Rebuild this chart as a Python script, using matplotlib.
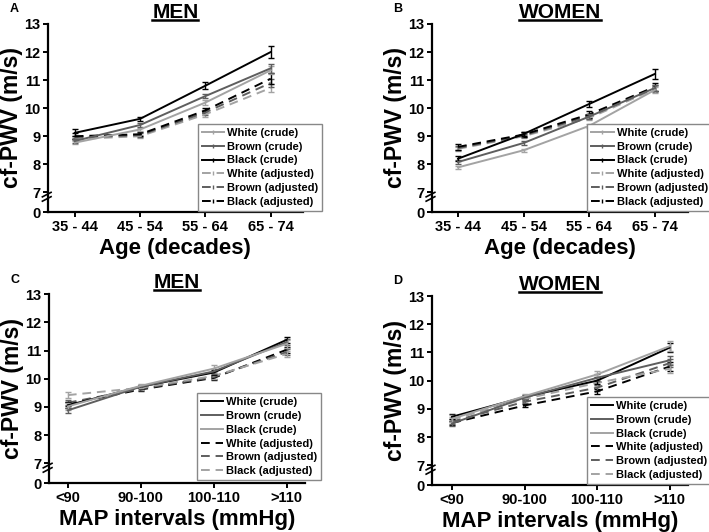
import matplotlib
matplotlib.use('Agg')
import matplotlib.pyplot as plt
from matplotlib.lines import Line2D
from matplotlib.container import ErrorbarContainer
from matplotlib.legend_handler import HandlerErrorbar

plt.rcParams['font.family'] = ['Liberation Sans', 'DejaVu Sans']
plt.rcParams['font.weight'] = 'bold'

# ---------------- data ----------------
age_groups = ['35 - 44', '45 - 54', '55 - 64', '65 - 74']
map_groups = ['<90', '90-100', '100-110', '>110']
y_ticks = [7, 8, 9, 10, 11, 12, 13]
series_names = ['White (crude)', 'Brown (crude)', 'Black (crude)',
                'White (adjusted)', 'Brown (adjusted)', 'Black (adjusted)']

# Panel A: men by age
men_age_white_crude = [8.77, 9.24, 10.20, 11.35]
men_age_brown_crude = [8.83, 9.40, 10.43, 11.42]
men_age_black_crude = [9.12, 9.62, 10.80, 12.00]
men_age_white_adj = [8.90, 9.00, 9.78, 10.72]
men_age_brown_adj = [8.95, 9.04, 9.85, 10.90]
men_age_black_adj = [9.00, 9.07, 9.92, 11.05]
men_age_err = [[0.06, 0.06, 0.08, 0.15], [0.06, 0.07, 0.08, 0.17],
               [0.12, 0.08, 0.12, 0.22], [0.05, 0.06, 0.08, 0.13],
               [0.05, 0.06, 0.08, 0.13], [0.10, 0.07, 0.10, 0.20]]

# Panel B: women by age
women_age_white_crude = [7.89, 8.50, 9.37, 10.65]
women_age_brown_crude = [8.08, 8.76, 9.70, 10.72]
women_age_black_crude = [8.20, 9.08, 10.15, 11.22]
women_age_white_adj = [8.55, 9.00, 9.65, 10.68]
women_age_brown_adj = [8.58, 9.03, 9.72, 10.72]
women_age_black_adj = [8.62, 9.06, 9.78, 10.76]
women_age_err = [[0.06, 0.05, 0.06, 0.10], [0.08, 0.07, 0.08, 0.12],
                 [0.10, 0.08, 0.10, 0.17], [0.06, 0.05, 0.06, 0.10],
                 [0.08, 0.06, 0.08, 0.12], [0.12, 0.08, 0.12, 0.15]]

# Panel C: men by MAP
men_map_white_crude = [9.06, 9.72, 10.22, 11.38]
men_map_brown_crude = [8.88, 9.72, 10.26, 11.30]
men_map_black_crude = [9.02, 9.75, 10.36, 11.24]
men_map_white_adj = [9.10, 9.62, 10.03, 11.03]
men_map_brown_adj = [9.15, 9.65, 10.06, 10.95]
men_map_black_adj = [9.42, 9.68, 10.10, 10.88]
men_map_err = [[0.10, 0.06, 0.08, 0.10], [0.08, 0.06, 0.08, 0.10],
               [0.12, 0.08, 0.12, 0.15], [0.08, 0.05, 0.07, 0.10],
               [0.08, 0.05, 0.07, 0.10], [0.12, 0.07, 0.10, 0.12]]

# Panel D: women by MAP
women_map_white_crude = [8.72, 9.42, 10.00, 11.17]
women_map_brown_crude = [8.48, 9.40, 10.10, 10.72]
women_map_black_crude = [8.65, 9.45, 10.22, 11.22]
women_map_white_adj = [8.50, 9.12, 9.62, 10.50]
women_map_brown_adj = [8.55, 9.25, 9.75, 10.62]
women_map_black_adj = [8.62, 9.35, 9.92, 10.42]
women_map_err = [[0.08, 0.06, 0.12, 0.15], [0.08, 0.06, 0.12, 0.15],
                 [0.12, 0.08, 0.12, 0.18], [0.08, 0.06, 0.10, 0.15],
                 [0.08, 0.06, 0.10, 0.15], [0.10, 0.07, 0.12, 0.16]]

# ---------------- style ----------------
LIGHT = '#a3a3a3'
MID = '#5e5e5e'
DARK = '#000000'
Y_BOTTOM = 6.3  # position standing for "0" on the broken axis

fig = plt.figure(figsize=(7.09, 5.32), dpi=100)

panels = [
    dict(letter='A', title='MEN', cats=age_groups, xlabel='Age (decades)',
         series=[men_age_white_crude, men_age_brown_crude, men_age_black_crude,
                 men_age_white_adj, men_age_brown_adj, men_age_black_adj],
         err=men_age_err, colors=[LIGHT, MID, DARK, LIGHT, MID, DARK],
         rect=[0.0677, 0.6015, 0.3593, 0.3535], xlim=(-0.41, 3.49),
         legend=(0.588, 0.468), bar_handles=True),
    dict(letter='B', title='WOMEN', cats=age_groups, xlabel='Age (decades)',
         series=[women_age_white_crude, women_age_brown_crude, women_age_black_crude,
                 women_age_white_adj, women_age_brown_adj, women_age_black_adj],
         err=women_age_err, colors=[LIGHT, MID, DARK, LIGHT, MID, DARK],
         rect=[0.609, 0.6015, 0.361, 0.3535], xlim=(-0.40, 3.50),
         legend=(0.608, 0.468), bar_handles=True),
    dict(letter='C', title='MEN', cats=map_groups, xlabel='MAP intervals (mmHg)',
         series=[men_map_white_crude, men_map_brown_crude, men_map_black_crude,
                 men_map_white_adj, men_map_brown_adj, men_map_black_adj],
         err=men_map_err, colors=[DARK, MID, LIGHT, DARK, MID, LIGHT],
         rect=[0.069, 0.092, 0.361, 0.355], xlim=(-0.26, 3.25),
         legend=(0.578, 0.475), bar_handles=False),
    dict(letter='D', title='WOMEN', cats=map_groups, xlabel='MAP intervals (mmHg)',
         series=[women_map_white_crude, women_map_brown_crude, women_map_black_crude,
                 women_map_white_adj, women_map_brown_adj, women_map_black_adj],
         err=women_map_err, colors=[DARK, MID, LIGHT, DARK, MID, LIGHT],
         rect=[0.609, 0.0883, 0.361, 0.3553], xlim=(-0.28, 3.25),
         legend=(0.605, 0.465), bar_handles=False),
]

title_texts = []
for p in panels:
    ax = fig.add_axes(p['rect'])
    x = list(range(len(p['cats'])))
    handles = []
    for i, (vals, col, name) in enumerate(zip(p['series'], p['colors'], series_names)):
        ls = '-' if i < 3 else (0, (4.5, 3))
        cont = ax.errorbar(x, vals, yerr=p['err'][i], color=col, ecolor=col,
                           linestyle=ls, linewidth=1.4, elinewidth=1.0,
                           capsize=2.2, capthick=1.0, label=name,
                           zorder=3 if i < 3 else 2)
        if p['bar_handles']:
            handles.append(Line2D([], [], color=col, linestyle=ls, linewidth=1.4,
                                  marker='|', markersize=3.5, markeredgewidth=1.0))
        else:
            handles.append(Line2D([], [], color=col, linestyle=ls, linewidth=1.4))
    ax.set_xlim(*p['xlim'])
    ax.set_ylim(Y_BOTTOM, 13)
    ax.set_xticks(x)
    ax.set_xticklabels(p['cats'], fontsize=10.5, fontweight='bold')
    ax.set_yticks([Y_BOTTOM] + y_ticks)
    ax.set_yticklabels(['0'] + [str(t) for t in y_ticks], fontsize=10.5, fontweight='bold')
    for s in ['top', 'right']:
        ax.spines[s].set_visible(False)
    for s in ['left', 'bottom']:
        ax.spines[s].set_linewidth(1.6)
    ax.tick_params(axis='both', direction='out', length=3.5, width=1.4, pad=2)
    ax.set_xlabel(p['xlabel'], fontsize=16, fontweight='bold', labelpad=3)
    ax.set_ylabel('cf-PWV (m/s)', fontsize=16.5, fontweight='bold', labelpad=1)
    # axis break marks
    y7 = (7 - Y_BOTTOM) / (13 - Y_BOTTOM)
    for dy in (-0.035, -0.012):
        ax.plot([-0.022, 0.012], [y7 + dy - 0.012, y7 + dy + 0.012],
                transform=ax.transAxes, color='black', lw=1.2, clip_on=False, zorder=5)
    leg = ax.legend(handles, series_names, loc='upper left',
                    bbox_to_anchor=p['legend'], fontsize=8, frameon=True,
                    fancybox=False, edgecolor='#888888', framealpha=1,
                    handlelength=2.0, handletextpad=0.3, labelspacing=0.34,
                    borderpad=0.35, borderaxespad=0)
    leg.get_frame().set_linewidth(1.0)
    for t in leg.get_texts():
        t.set_fontweight('bold')
    tt = ax.text(0.5, 1.01, p['title'], transform=ax.transAxes, ha='center',
                 va='bottom', fontsize=15, fontweight='bold')
    title_texts.append(tt)
    ax.text(-0.15, 1.045, p['letter'], transform=ax.transAxes, ha='left',
            va='bottom', fontsize=9, fontweight='bold')

# underline titles
fig.canvas.draw()
renderer = fig.canvas.get_renderer()
inv = fig.transFigure.inverted()
for tt in title_texts:
    bb = tt.get_window_extent(renderer)
    (x0, y0), (x1, _) = inv.transform([[bb.x0, bb.y0], [bb.x1, bb.y1]])
    fig.add_artist(Line2D([x0, x1], [y0 + 0.004, y0 + 0.004], transform=fig.transFigure,
                          color='black', lw=1.8))

fig.savefig('out.png', dpi=100)
